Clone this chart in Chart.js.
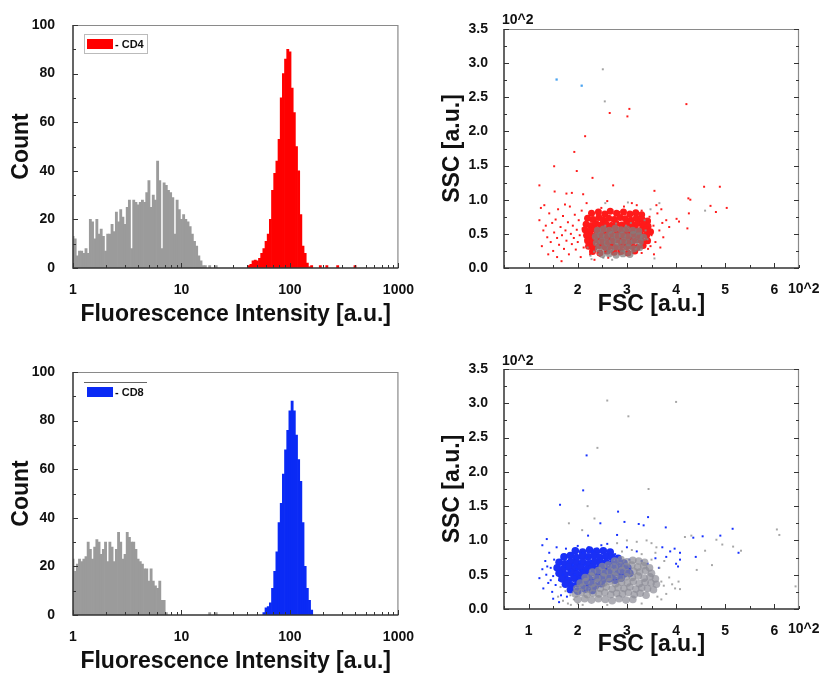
<!DOCTYPE html>
<html>
<head>
<meta charset="utf-8">
<script src="https://cdn.jsdelivr.net/npm/chart.js@4.4.1/dist/chart.umd.min.js"></script>
<style>
  body { margin: 0; background: #fff; width: 823px; height: 673px; position: relative; overflow: hidden; }
  canvas { position: absolute; }
</style>
</head>
<body>
<canvas id="cd4Hist" width="420" height="340" style="left:0;top:0"></canvas>
<canvas id="cd4Scatter" width="403" height="340" style="left:420px;top:0"></canvas>
<canvas id="cd8Hist" width="420" height="333" style="left:0;top:340px"></canvas>
<canvas id="cd8Scatter" width="403" height="333" style="left:420px;top:340px"></canvas>
<script>
// histogram bins: bin k is centred at 10^(k / BINS_PER_DECADE)
const BINS_PER_DECADE = 50;

const cd4CtrlStart = 0;
const cd4CtrlCounts = [13,12,5,7,7,6,8,6,20,19,12,20,14,16,13,7,14,14,18,15,23,19,24,21,18,25,28,8,28,27,
  26,27,28,27,31,36,25,30,28,44,36,8,35,34,32,31,29,14,28,24,20,22,20,19,17,14,11,9,5,3,1,1,null,1,null,null,1];
const cd4Start = 81;
const cd4Counts = [1,1.5,3,3.3,3,4,6,8,11,14,20,32,39,44,53,70,80,86,90,89,74,64,50,40,22,9,6,2,0.5,1,
  null,null,null,1,null,null,1,null,null,null,null,1,null,null,null,null,null,null,null,1];

const cd8CtrlStart = 0;
const cd8CtrlCounts = [23,18,21,23,22,23,24,30,27,23,28,31,30,25,27,30,22,30,28,22,27,34,30,23,25,34,32,30,30,27,
  23,22,21,19,19,14,19,14,12,11,14,6,6,1,null,null,null,null,null,null,null,null,null,null,null,null,null,null,null,null,
  null,null,null,1,null,null,1];
const cd8Start = 88;
const cd8Counts = [1,3,3.5,5,11,18,26,38,46,58,68,76,84,88,84,74,64,55,38,20,11,6,2];

const histXTicks = [1, 10, 100, 1000];
const histXMinor = [2,3,4,5,6,7,8,9,20,30,40,50,60,70,80,90,200,300,400,500,600,700,800,900];
const histYTicks = [0, 20, 40, 60, 80, 100];
const histYMinor = [10, 30, 50, 70, 90];

// scatter: [FSC, SSC] in units of 10^2
const cd4Red = [
  [1.22,0.70],[1.25,0.88],[1.27,0.32],[1.30,0.55],[1.35,0.62],[1.38,0.45],[1.42,0.80],[1.45,0.38],[1.48,0.66],[1.50,0.25],
  [1.52,0.52],[1.55,0.71],[1.58,0.44],[1.60,0.86],[1.62,0.34],[1.65,0.60],[1.67,0.10],[1.68,0.48],[1.70,0.76],[1.72,0.28],
  [1.75,0.55],[1.77,0.40],[1.80,0.67],[1.82,0.20],[1.84,0.90],[1.86,0.50],[1.88,0.35],[1.90,0.62],[1.92,0.44],[1.94,0.78],
  [1.96,0.27],[1.98,0.56],[2.00,0.38],[2.02,0.70],[2.04,0.48],[2.06,0.16],[2.08,0.84],[2.10,0.58],[2.12,0.30],[2.14,0.64],
  [2.16,0.42],[2.18,0.95],[2.20,0.52],[2.22,0.35],[2.24,0.72],[2.26,0.60],[2.28,0.25],[2.30,0.48],[2.32,0.80],[2.34,0.40],
  [2.36,0.66],[2.38,0.55],[2.40,0.30],[2.42,0.75],[2.44,0.45],[2.46,0.62],[2.48,0.88],[2.50,0.36],[2.52,0.70],[2.54,0.52],
  [2.56,0.22],[2.58,0.80],[2.60,0.60],[2.62,0.42],[2.64,0.73],[2.66,0.33],[2.68,0.66],[2.70,0.85],[2.72,0.50],[2.74,0.28],
  [2.76,0.77],[2.78,0.58],[2.80,0.68],[2.82,0.40],[2.84,0.82],[2.86,0.62],[2.88,0.30],[2.90,0.74],[2.92,0.55],[2.94,0.90],
  [2.96,0.46],[2.98,0.70],[3.00,0.35],[3.02,0.80],[3.04,0.60],[3.06,0.44],[3.08,0.72],[3.10,0.95],[3.12,0.52],[3.14,0.66],
  [3.16,0.38],[3.18,0.78],[3.20,0.58],[3.22,0.46],[3.24,0.70],[3.26,0.32],[3.28,0.62],[3.30,0.84],[3.32,0.50],[3.35,0.40],
  [3.38,0.68],[3.40,0.56],[3.43,0.28],[3.46,0.75],[3.50,0.48],[3.54,0.62],[3.58,0.38],[3.62,0.80],[3.66,0.55],[3.70,0.86],
  [3.74,0.45],[3.80,0.70],[3.86,0.60],[2.25,0.20],[2.45,0.18],[2.62,0.15],[2.34,0.12],[2.85,0.20],[3.30,0.22],[3.48,0.32],
  [3.60,0.92],[3.72,0.66],[3.68,0.30],[3.55,0.20],[1.40,0.20],[1.58,0.16],[1.32,0.92],[1.74,0.93],[3.20,0.92],[2.60,0.98],
  [2.65,2.27],[3.05,2.33],[3.01,2.22],[4.21,2.40],[2.15,1.93],[1.93,1.70],[1.52,1.49],[1.98,1.42],[2.30,1.32],[1.22,1.21],
  [2.72,1.21],[1.53,1.12],[1.77,1.09],[1.88,1.10],[2.11,1.08],[3.56,1.13],[4.57,1.19],[4.89,1.19],[4.25,1.02],[4.29,1.00],
  [4.70,0.91],[4.81,0.82],[5.03,0.88],[4.26,0.80],[4.23,0.58],[4.01,0.72],[4.06,0.68]
];
const cd4RedCore = [
  [2.28,0.80],[2.42,0.82],[2.55,0.79],[2.66,0.83],[2.79,0.80],[2.93,0.82],[3.06,0.79],[3.18,0.81],[3.30,0.78],
  [2.20,0.73],[2.31,0.71],[2.43,0.74],[2.52,0.70],[2.63,0.73],[2.74,0.71],[2.86,0.74],[2.97,0.72],[3.08,0.70],[3.19,0.73],[3.31,0.71],[3.42,0.69],
  [2.17,0.64],[2.27,0.62],[2.37,0.65],[2.47,0.63],[2.58,0.64],[2.68,0.62],[2.78,0.65],[2.89,0.63],[2.99,0.64],[3.10,0.62],[3.21,0.65],[3.32,0.63],[3.43,0.61],
  [2.15,0.56],[2.25,0.54],[2.35,0.57],[2.45,0.55],[2.55,0.56],[2.65,0.54],[2.76,0.57],[2.86,0.55],[2.96,0.56],[3.07,0.54],[3.17,0.57],[3.28,0.55],[3.39,0.56],[3.48,0.53],
  [2.18,0.48],[2.28,0.46],[2.38,0.49],[2.48,0.47],[2.58,0.48],[2.68,0.46],[2.78,0.49],[2.88,0.47],[2.98,0.48],[3.08,0.46],[3.18,0.49],[3.29,0.47],[3.40,0.48],
  [2.20,0.40],[2.30,0.38],[2.40,0.41],[2.50,0.39],[2.60,0.40],[2.70,0.38],[2.80,0.41],[2.90,0.39],[3.00,0.40],[3.10,0.38],[3.20,0.41],[3.31,0.39],[3.42,0.40],
  [2.22,0.32],[2.33,0.30],[2.44,0.33],[2.55,0.31],[2.66,0.32],[2.77,0.30],[2.88,0.33],[2.99,0.31],[3.10,0.32],[3.21,0.30],[3.33,0.33],
  [2.30,0.24],[2.45,0.22],[2.60,0.25],[2.74,0.23],[2.88,0.24],[3.02,0.22],[3.16,0.25]
];
const cd4Grey = [
  [2.20,0.30],[2.26,0.18],[2.33,0.24],[2.42,0.20],[2.52,0.15],[2.62,0.22],[2.72,0.26],[2.94,0.24],[3.18,0.28],[3.36,0.70],
  [3.42,0.42],[3.38,0.55],[2.78,0.65],[2.56,0.62],[3.08,0.66],[2.98,0.62],
  [2.51,2.91],[2.55,2.44],[3.56,0.14],[4.59,0.84],[2.56,0.95],[3.66,0.95],[2.28,0.13],[2.70,0.12],[3.02,0.96],[3.48,0.86]
];
const cd4GreyCore = [
  [2.40,0.55],[2.52,0.57],[2.64,0.55],[2.76,0.58],[2.88,0.56],[3.00,0.57],[3.12,0.55],[3.24,0.54],
  [2.36,0.46],[2.47,0.48],[2.58,0.46],[2.69,0.49],[2.80,0.47],[2.91,0.48],[3.02,0.46],[3.13,0.49],[3.25,0.47],[3.34,0.45],
  [2.38,0.37],[2.49,0.39],[2.60,0.37],[2.71,0.40],[2.82,0.38],[2.93,0.39],[3.04,0.37],[3.15,0.40],[3.27,0.38],
  [2.42,0.28],[2.54,0.30],[2.66,0.28],[2.78,0.31],[2.90,0.29],[3.02,0.30],[3.14,0.28],[3.26,0.30],
  [2.50,0.20],[2.64,0.21],[2.78,0.19],[2.92,0.21],[3.06,0.20]
];
const cd4Other = [[1.57,2.76],[2.08,2.67]];

const cd8Blue = [
  [1.22,0.45],[1.28,0.58],[1.30,0.30],[1.34,0.70],[1.36,0.50],[1.40,0.38],[1.42,0.82],[1.45,0.60],[1.48,0.25],[1.50,0.48],
  [1.52,0.72],[1.55,0.35],[1.57,0.90],[1.60,0.55],[1.62,0.42],[1.64,0.66],[1.66,0.20],[1.68,0.78],[1.70,0.50],[1.72,0.34],
  [1.74,0.62],[1.76,0.88],[1.78,0.45],[1.80,0.70],[1.82,0.28],[1.84,0.56],[1.86,0.40],[1.88,0.80],[1.90,0.64],[1.92,0.36],
  [1.94,0.50],[1.96,0.74],[1.98,0.58],[2.00,0.92],[2.02,0.44],[2.04,0.68],[2.06,0.30],[2.08,0.56],[2.10,0.82],[2.12,0.48],
  [2.14,0.64],[2.16,0.38],[2.18,0.76],[2.20,0.58],[2.22,0.90],[2.24,0.46],[2.26,0.70],[2.28,0.55],[2.30,0.84],[2.32,0.40],
  [2.40,0.88],[2.48,0.93],[2.66,0.86],[2.76,0.80],[2.86,0.74],[2.96,0.70],[3.05,0.72],[3.30,0.70],[3.42,0.66],[3.58,0.74],
  [3.65,0.60],[3.72,0.90],[3.80,0.76],[3.88,0.84],[4.00,0.66],[4.08,0.72],[1.38,0.62],[1.50,0.15],[1.62,0.10],[1.78,0.18],
  [1.95,0.25],[1.45,0.42],[3.20,0.84],[3.00,0.90],[2.60,0.95],
  [2.18,2.24],[2.11,1.73],[1.64,1.52],[2.82,1.42],[2.95,1.27],[2.46,1.25],[3.24,1.24],[3.34,1.22],[3.43,1.34],[3.79,1.19],
  [2.80,1.08],[2.21,1.07],[1.37,1.02],[1.28,0.93],[4.54,1.06],[4.90,1.07],[5.15,1.17],[5.27,0.82],[4.35,1.04],[3.97,0.88],
  [4.08,0.82],[4.40,0.76],[4.04,0.62]
];
const cd8BlueCore = [
  [1.95,0.85],[2.10,0.83],[2.24,0.86],[2.38,0.84],[2.52,0.85],[2.66,0.83],
  [1.72,0.76],[1.85,0.78],[1.97,0.75],[2.09,0.77],[2.21,0.76],[2.33,0.78],[2.45,0.75],[2.57,0.77],[2.69,0.76],[2.82,0.74],
  [1.62,0.68],[1.74,0.66],[1.86,0.69],[1.98,0.67],[2.10,0.68],[2.22,0.66],[2.34,0.69],[2.46,0.67],[2.58,0.68],[2.70,0.66],[2.82,0.69],[2.94,0.67],
  [1.58,0.60],[1.70,0.58],[1.82,0.61],[1.94,0.59],[2.06,0.60],[2.18,0.58],[2.30,0.61],[2.42,0.59],[2.54,0.60],[2.66,0.58],[2.78,0.61],[2.90,0.59],[3.02,0.60],
  [1.62,0.52],[1.74,0.50],[1.86,0.53],[1.98,0.51],[2.10,0.52],[2.22,0.50],[2.34,0.53],[2.46,0.51],[2.58,0.52],[2.70,0.50],[2.82,0.53],[2.94,0.51],[3.06,0.52],
  [1.68,0.44],[1.80,0.42],[1.92,0.45],[2.04,0.43],[2.16,0.44],[2.28,0.42],[2.40,0.45],[2.52,0.43],[2.64,0.44],[2.76,0.42],[2.88,0.45],
  [1.75,0.36],[1.88,0.34],[2.00,0.37],[2.12,0.35],[2.24,0.36],[2.36,0.34],[2.48,0.37],
  [1.85,0.28],[2.00,0.26],[2.15,0.29],[2.30,0.27]
];
const cd8Grey = [
  [1.60,0.18],[1.65,0.32],[1.70,0.12],[1.75,0.26],[1.80,0.08],[1.85,0.20],[1.92,0.14],[1.86,0.06],[2.00,0.08],[2.10,0.06],
  [3.66,0.60],[3.70,0.40],[3.75,0.34],[3.80,0.22],[3.86,0.46],[3.92,0.36],[3.98,0.30],[4.05,0.40],[3.60,0.90],[3.50,0.96],
  [3.40,1.00],[3.20,0.98],[3.00,1.00],[2.80,0.96],[3.30,0.80],[3.50,0.72],[3.62,0.18],[3.70,0.14],[3.30,0.08],[2.60,0.06],
  [3.58,0.82],[3.76,0.70],[3.10,0.86],[2.90,0.84],
  [2.60,3.04],[4.00,3.02],[3.03,2.81],[2.40,2.35],[3.44,1.75],[2.20,1.50],[2.34,1.32],[1.82,1.25],[2.09,1.15],[6.05,1.16],
  [6.10,1.08],[4.82,1.01],[4.94,0.94],[5.16,0.91],[5.32,0.85],[4.73,0.64],[4.42,0.57],[6.43,0.33],[4.08,0.29],[4.31,1.07],
  [4.59,0.85],[4.18,1.05]
];
const cd8GreyCore = [
  [2.75,0.70],[2.88,0.72],[3.00,0.69],[3.12,0.71],[3.24,0.70],[3.36,0.68],
  [2.50,0.62],[2.62,0.64],[2.74,0.61],[2.86,0.63],[2.98,0.62],[3.10,0.64],[3.22,0.61],[3.34,0.63],[3.46,0.60],
  [2.30,0.54],[2.42,0.56],[2.54,0.53],[2.66,0.55],[2.78,0.54],[2.90,0.56],[3.02,0.53],[3.14,0.55],[3.26,0.54],[3.38,0.56],[3.50,0.52],
  [2.15,0.46],[2.27,0.48],[2.39,0.45],[2.51,0.47],[2.63,0.46],[2.75,0.48],[2.87,0.45],[2.99,0.47],[3.11,0.46],[3.23,0.48],[3.35,0.45],[3.47,0.47],[3.58,0.44],
  [2.05,0.38],[2.17,0.40],[2.29,0.37],[2.41,0.39],[2.53,0.38],[2.65,0.40],[2.77,0.37],[2.89,0.39],[3.01,0.38],[3.13,0.40],[3.25,0.37],[3.37,0.39],[3.49,0.38],[3.60,0.36],
  [1.98,0.30],[2.10,0.32],[2.22,0.29],[2.34,0.31],[2.46,0.30],[2.58,0.32],[2.70,0.29],[2.82,0.31],[2.94,0.30],[3.06,0.32],[3.18,0.29],[3.30,0.31],[3.42,0.30],[3.54,0.28],
  [1.95,0.22],[2.07,0.24],[2.19,0.21],[2.31,0.23],[2.43,0.22],[2.55,0.24],[2.67,0.21],[2.79,0.23],[2.91,0.22],[3.03,0.24],[3.15,0.21],[3.27,0.23],[3.39,0.20],
  [2.00,0.14],[2.14,0.15],[2.28,0.13],[2.42,0.15],[2.56,0.14],[2.70,0.12],[2.84,0.15],[2.98,0.13],[3.12,0.14]
];

const scatXTicks = [1, 2, 3, 4, 5, 6];
const scatXMinor = [0.5, 1.5, 2.5, 3.5, 4.5, 5.5, 6.5];
const scatYTicks = [0, 0.5, 1, 1.5, 2, 2.5, 3, 3.5];
const scatYMinor = [0.25, 0.75, 1.25, 1.75, 2.25, 2.75, 3.25];

const FONT = "'Liberation Sans', Arial, sans-serif";
const GREY = '#9b9b9b';

// axis frame: dark left/bottom, light top/right, inward ticks
const framePlugin = {
  id: 'frame',
  afterDatasetsDraw(chart, args, opts) {
    const { ctx, chartArea: a, scales: { x, y } } = chart;
    ctx.save();
    ctx.strokeStyle = '#8a8a8a';
    ctx.lineWidth = 1.2;
    ctx.beginPath();
    ctx.moveTo(a.left, a.top + 0.5); ctx.lineTo(a.right, a.top + 0.5);
    ctx.moveTo(a.right - 0.5, a.top); ctx.lineTo(a.right - 0.5, a.bottom);
    ctx.stroke();
    ctx.strokeStyle = '#333';
    ctx.lineWidth = 1.5;
    ctx.beginPath();
    ctx.moveTo(a.left, a.top); ctx.lineTo(a.left, a.bottom); ctx.lineTo(a.right, a.bottom);
    ctx.stroke();
    ctx.lineWidth = 1;
    ctx.beginPath();
    const tick = (vals, len, axis) => vals.forEach(v => {
      if (axis === 'x') {
        const p = Math.round(x.getPixelForValue(v)) + 0.5;
        ctx.moveTo(p, a.bottom); ctx.lineTo(p, a.bottom - len);
      } else {
        const p = Math.round(y.getPixelForValue(v)) + 0.5;
        ctx.moveTo(a.left, p); ctx.lineTo(a.left + len, p);
        if (opts.right) { ctx.moveTo(a.right, p); ctx.lineTo(a.right - len, p); }
      }
    });
    tick(opts.xMajor, 5, 'x');
    tick(opts.xMinor, 3, 'x');
    tick(opts.yMajor, 5, 'y');
    tick(opts.yMinor, 3, 'y');
    ctx.stroke();
    ctx.restore();
  }
};

// small boxed legend in the top-left of the plot
const swatchPlugin = {
  id: 'swatch',
  afterDatasetsDraw(chart, args, opts) {
    if (!opts.label) return;
    const { ctx, chartArea: a } = chart;
    const fx = a.left + 11, fy = a.top + opts.dy;
    ctx.save();
    ctx.strokeStyle = '#666';
    ctx.lineWidth = 1;
    ctx.beginPath();
    ctx.moveTo(fx, fy + 0.5); ctx.lineTo(fx + 63, fy + 0.5);
    ctx.stroke();
    if (opts.boxed) {
      ctx.strokeStyle = '#bbb';
      ctx.strokeRect(fx + 0.5, fy + 0.5, 63, 19);
    }
    ctx.fillStyle = opts.color;
    ctx.fillRect(fx + 3, fy + 5, 26, 10);
    ctx.fillStyle = '#111';
    ctx.font = 'bold 11px ' + FONT;
    ctx.textBaseline = 'middle';
    ctx.fillText('- ' + opts.label, fx + 31, fy + 10.5);
    ctx.restore();
  }
};

// "10^2" multipliers of the scatter axes
const unitPlugin = {
  id: 'units',
  afterDraw(chart, args, opts) {
    if (!opts.text) return;
    const { ctx, chartArea: a } = chart;
    ctx.save();
    ctx.fillStyle = '#111';
    ctx.font = 'bold 14px ' + FONT;
    ctx.textBaseline = 'middle';
    ctx.fillText(opts.text, a.left - 2, a.top - opts.topGap);
    ctx.fillText(opts.text, a.right - 11, a.bottom + opts.bottomGap);
    ctx.restore();
  }
};

Chart.register(framePlugin, swatchPlugin, unitPlugin);

const tickFont = { family: FONT, size: 14, weight: 'bold' };
const titleFont = { family: FONT, size: 23, weight: 'bold', lineHeight: 1 };

function bins(start, counts) {
  return counts.map((c, i) => ({ x: Math.pow(10, (start + i) / BINS_PER_DECADE), y: c }));
}

function histogram(id, ctrlStart, ctrlCounts, start, counts, color, label, lay) {
  new Chart(document.getElementById(id), {
    type: 'bar',
    data: {
      datasets: [
        { data: bins(ctrlStart, ctrlCounts), backgroundColor: GREY, barThickness: 2.2 },
        { data: bins(start, counts), backgroundColor: color, barThickness: 2.2 }
      ]
    },
    options: {
      responsive: false,
      animation: false,
      events: [],
      grouped: false,
      layout: { padding: { left: 0, top: lay.top, right: 20, bottom: 0 } },
      scales: {
        x: {
          type: 'logarithmic', min: 1, max: 1000, offset: false,
          grid: { display: false, offset: false },
          border: { display: false },
          afterBuildTicks: s => { s.ticks = histXTicks.map(v => ({ value: v })); },
          afterFit: s => { s.height = lay.xHeight; },
          ticks: { font: tickFont, color: '#111', padding: 6, maxRotation: 0, callback: v => String(v) },
          title: { display: true, text: 'Fluorescence Intensity [a.u.]', font: titleFont, color: '#111',
                   padding: { top: 0, bottom: lay.xTitlePad } }
        },
        y: {
          min: 0, max: 100,
          grid: { display: false },
          border: { display: false },
          afterBuildTicks: s => { s.ticks = histYTicks.map(v => ({ value: v })); },
          afterFit: s => { s.width = 73; },
          ticks: { font: tickFont, color: '#111', padding: 10 },
          title: { display: true, text: 'Count', font: titleFont, color: '#111', padding: { top: 10.5, bottom: 0 } }
        }
      },
      plugins: {
        legend: { display: false },
        tooltip: { enabled: false },
        frame: { xMajor: histXTicks, xMinor: histXMinor, yMajor: histYTicks, yMinor: histYMinor },
        swatch: { label, color, boxed: lay.boxed, dy: lay.legendDy },
        units: {}
      }
    }
  });
}

const pts = arr => arr.map(p => ({ x: p[0], y: p[1] }));

function scatter(id, sets, lay) {
  new Chart(document.getElementById(id), {
    type: 'scatter',
    data: {
      datasets: sets.map(s => ({
        data: pts(s.points), backgroundColor: s.color, borderWidth: 0,
        pointStyle: s.style || 'rect', pointRadius: s.r
      }))
    },
    options: {
      responsive: false,
      animation: false,
      events: [],
      layout: { padding: { left: 0, top: lay.top, right: 24, bottom: 0 } },
      scales: {
        x: {
          type: 'linear', min: 0.5, max: 6.5,
          grid: { display: false },
          border: { display: false },
          afterBuildTicks: s => { s.ticks = scatXTicks.map(v => ({ value: v })); },
          afterFit: s => { s.height = lay.xHeight; },
          ticks: { font: tickFont, color: '#111', padding: 6, maxRotation: 0 },
          title: { display: true, text: 'FSC [a.u.]', font: titleFont, color: '#111',
                   padding: { top: 0, bottom: lay.xTitlePad } }
        },
        y: {
          min: 0, max: 3.5,
          grid: { display: false },
          border: { display: false },
          afterBuildTicks: s => { s.ticks = scatYTicks.map(v => ({ value: v })); },
          afterFit: s => { s.width = 84; },
          ticks: { font: tickFont, color: '#111', padding: 8, callback: v => v.toFixed(1) },
          title: { display: true, text: 'SSC [a.u.]', font: titleFont, color: '#111', padding: { top: 21.5, bottom: 0 } }
        }
      },
      plugins: {
        legend: { display: false },
        tooltip: { enabled: false },
        frame: { xMajor: scatXTicks, xMinor: scatXMinor, yMajor: scatYTicks, yMinor: scatYMinor, right: true },
        swatch: {},
        units: { text: '10^2', topGap: lay.unitTop, bottomGap: lay.unitBottom }
      }
    }
  });
}

histogram('cd4Hist', cd4CtrlStart, cd4CtrlCounts, cd4Start, cd4Counts, '#ff0000', 'CD4',
  { top: 25, xHeight: 72, xTitlePad: 13.5, boxed: true, legendDy: 9 });
histogram('cd8Hist', cd8CtrlStart, cd8CtrlCounts, cd8Start, cd8Counts, '#0a2af5', 'CD8',
  { top: 32, xHeight: 58, xTitlePad: 0, boxed: false, legendDy: 10 });

// first dataset is drawn on top
scatter('cd4Scatter', [
  { points: cd4GreyCore, color: 'rgba(130,125,125,0.72)', r: 3.6, style: 'circle' },
  { points: cd4Grey, color: 'rgba(140,140,140,0.8)', r: 1.4 },
  { points: cd4Other, color: '#4aa3f0', r: 1.6 },
  { points: cd4Red, color: '#ff1a1a', r: 1.4 },
  { points: cd4RedCore, color: '#ff1a1a', r: 3.5, style: 'circle' }
], { top: 29, xHeight: 72, xTitlePad: 23.5, unitTop: 9, unitBottom: 21 });

scatter('cd8Scatter', [
  { points: cd8Grey, color: 'rgba(150,150,150,0.85)', r: 1.4 },
  { points: cd8GreyCore, color: 'rgba(140,140,150,0.7)', r: 3.8, style: 'circle' },
  { points: cd8Blue, color: '#1530ff', r: 1.4 },
  { points: cd8BlueCore, color: '#1a30f5', r: 3.8, style: 'circle' }
], { top: 29, xHeight: 64, xTitlePad: 16.5, unitTop: 8, unitBottom: 20 });
</script>
</body>
</html>
